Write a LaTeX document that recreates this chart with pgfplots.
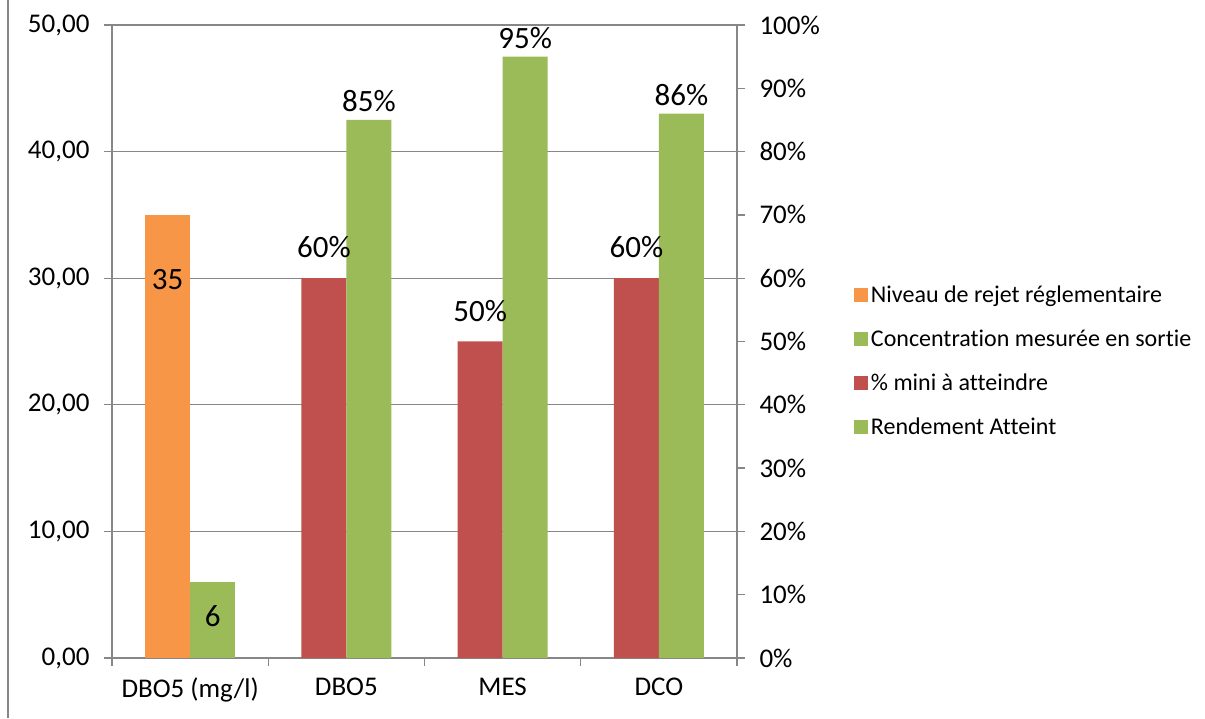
\documentclass[border=0pt]{standalone}
\usepackage{pgfplots}
\pgfplotsset{compat=1.18}
\usepackage{fontspec}
\setmainfont{Carlito}[Ligatures=NoCommon]
\definecolor{orangeB}{HTML}{F79646}
\definecolor{greenB}{HTML}{9BBB59}
\definecolor{redB}{HTML}{C0504D}
\definecolor{axisgray}{HTML}{878787}

% data labels: large text
\tikzset{lbl/.style={font=\fontsize{31}{36}\selectfont, text=black}}

\pgfplotsset{
  common/.style={
    at={(112pt,60pt)}, anchor=south west,
    scale only axis, width=625pt, height=633pt,
    xmin=-0.5, xmax=3.5, ymin=0,
    axis line style={axisgray, line width=1.3pt},
    tick style={axisgray, line width=1.3pt},
    major tick length=8pt, minor tick length=8pt,
    tick align=outside,
    /pgf/number format/assume math mode=true,
    ticklabel style={font=\fontsize{27}{31}\selectfont, text=black},
  },
}

\begin{document}
\begin{tikzpicture}[x=1pt,y=1pt]
\useasboundingbox (0,0) rectangle (1205,718);
\draw[axisgray, line width=1.3pt] (8,0) -- (8,718);

% left axis: concentrations in mg/l
\begin{axis}[common,
  ymax=50,
  axis x line*=bottom, axis y line*=left,
  xtick={0,1,2,3},
  xticklabels={DBO5 (mg/l),DBO5,MES,DCO},
  major x tick style={draw=none},
  minor xtick={-0.5,0.5,1.5,2.5,3.5},
  xticklabel style={yshift=-8pt},
  ytick={0,10,...,50},
  yticklabel={\pgfmathprintnumber[fixed,fixed zerofill,precision=2,use comma]{\tick}},
  yticklabel style={xshift=-11pt},
  ymajorgrids,
  grid style={axisgray, line width=1.3pt},
  nodes near coords,
  every node near coord/.append style={lbl, anchor=center},
]
\addplot[ybar, bar width=0.288, bar shift=-0.144, fill=orangeB, draw=none,
  every node near coord/.append style={xshift=-22.5pt, yshift=-65pt}]
  coordinates {(0,35)};
\addplot[ybar, bar width=0.288, bar shift=0.144, fill=greenB, draw=none,
  every node near coord/.append style={xshift=22.5pt, yshift=-34pt}]
  coordinates {(0,6)};
\end{axis}

% right axis: treatment efficiency in %
\begin{axis}[common,
  ymax=100,
  axis x line=none, axis y line*=right,
  ytick={0,10,...,100},
  yticklabel={\pgfmathprintnumber{\tick}\%},
  yticklabel style={xshift=11pt},
  nodes near coords={\pgfmathprintnumber{\pgfplotspointmeta}\%},
  every node near coord/.append style={lbl, anchor=south, inner sep=0pt},
  legend style={draw=none, fill=none, at={(1.182,0.592)}, anchor=north west,
    font=\fontsize{24}{28}\selectfont, row sep=26pt, column sep=3pt,
    nodes={inner sep=0pt}},
  legend cell align=left,
  legend image code/.code={\fill[#1, draw=none] (0pt,-7pt) rectangle (14pt,7pt);},
]
\addlegendimage{fill=orangeB, draw=none}
\addlegendentry{Niveau de rejet réglementaire}
\addlegendimage{fill=greenB, draw=none}
\addlegendentry{Concentration mesurée en sortie}
\addplot[ybar, bar width=0.288, bar shift=-0.144, fill=redB, draw=none,
  every node near coord/.append style={xshift=-22.5pt, yshift=20pt}]
  coordinates {(1,60) (2,50) (3,60)};
\addlegendentry{\% mini à atteindre}
\addplot[ybar, bar width=0.288, bar shift=0.144, fill=greenB, draw=none,
  every node near coord/.append style={xshift=22.5pt, yshift=8pt}]
  coordinates {(1,85) (2,95) (3,86)};
\addlegendentry{Rendement Atteint}
\end{axis}
\end{tikzpicture}
\end{document}
